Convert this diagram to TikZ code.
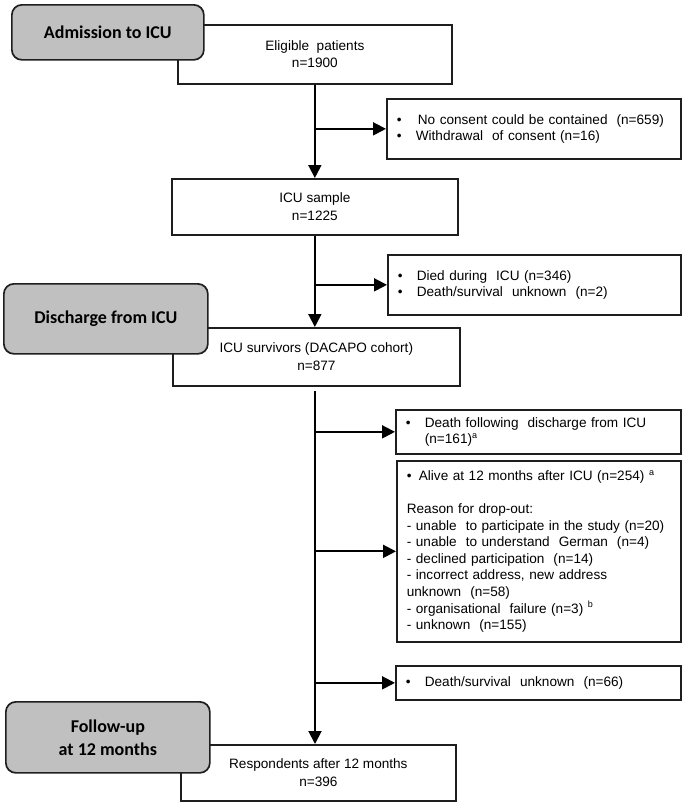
\documentclass[tikz,border=0pt]{standalone}
\usepackage{fontspec}
\setmainfont{Liberation Sans}
\newfontfamily\calib{Carlito}
\usetikzlibrary{arrows.meta}
\definecolor{phasegray}{RGB}{192,192,192}
\definecolor{edge}{RGB}{30,30,30}
\begin{document}
\begin{tikzpicture}[x=1pt,y=-1pt,
  box/.style={draw=edge, line width=1.7pt, fill=white, inner sep=0pt, anchor=north west,
    align=center, font=\fontsize{13.6}{17.5}\selectfont},
  exbox/.style={draw=edge, line width=1.7pt, fill=white, inner xsep=10pt, inner ysep=0pt,
    anchor=north west, align=left, font=\fontsize{13.6}{16.6}\selectfont},
  phase/.style={draw=edge, line width=1.7pt, fill=phasegray, rounded corners=10pt, inner sep=0pt,
    anchor=north west, align=center, font=\calib\bfseries\fontsize{18}{23}\selectfont},
  arr/.style={draw=black, line width=1.9pt, -{Triangle[length=13pt,width=13pt]}},
]
\useasboundingbox (0,0) rectangle (685,803);
% white boxes
\node[box, minimum width=274pt, minimum height=59pt] (elig) at (177,24) {Eligible\ \ patients\\n=1900};
\node[box, minimum width=286pt, minimum height=56pt] (sample) at (171,178) {ICU sample\\n=1225};
\node[box, minimum width=287pt, minimum height=58pt] (surv) at (172,327) {ICU survivors (DACAPO cohort)\\n=877};
\node[box, minimum width=275pt, minimum height=56pt] (resp) at (180,744) {Respondents\ after 12 months\\n=396};
% exclusion boxes
\node[exbox, text width=274pt, minimum height=60pt] (ex1) at (386,98)
  {\makebox[21pt][l]{\textbullet}No consent could\ be contained\ \ (n=659)\\
   \makebox[19pt][l]{\textbullet}Withdrawal\ \ of consent (n=16)};
\node[exbox, text width=273pt, minimum height=60pt] (ex2) at (387,254)
  {\makebox[19pt][l]{\textbullet}Died during\ \ ICU (n=346)\\
   \makebox[19pt][l]{\textbullet}Death/survival\ \ unknown\ \ (n=2)};
\node[exbox, text width=265pt, minimum height=44pt] (ex3) at (395,409)
  {\makebox[19pt][l]{\textbullet}Death following\ \ discharge from ICU\\
   \hspace*{19pt}(n=161)\textsuperscript{\fontsize{9}{9}\selectfont a}};
\node[exbox, text width=264pt, minimum height=181pt] (ex4) at (396,460)
  {\makebox[12pt][l]{\textbullet}Alive at 12 months after ICU (n=254) \textsuperscript{\fontsize{9}{9}\selectfont a}\\[16.6pt]
   Reason for drop-out:\\
   - unable\ \ to participate in the study (n=20)\\
   - unable\ \ to understand\ \ German\ \ (n=4)\\
   - declined participation\ \ (n=14)\\
   - incorrect address, new address\\
   unknown\ \ (n=58)\\
   - organisational\ \ failure (n=3) \textsuperscript{\fontsize{9}{9}\selectfont b}\\
   - unknown\ \ (n=155)};
\node[exbox, text width=265pt, minimum height=34pt] (ex5) at (395,665)
  {\makebox[19pt][l]{\textbullet}Death/survival\ \ unknown\ \ (n=66)};
% phase boxes
\node[phase, minimum width=192pt, minimum height=55pt] (adm) at (11,4) {Admission to ICU};
\node[phase, minimum width=204pt, minimum height=70pt] (dis) at (3,283) {Discharge from ICU};
\node[phase, minimum width=204pt, minimum height=71pt] (fol) at (5,701) {Follow-up\\at 12 months};
% connectors
\draw[arr] (elig.south) -- (elig.south |- sample.north);
\draw[arr] (elig.south |- ex1.west) -- (ex1.west);
\draw[arr] (sample.south) -- (sample.south |- surv.north);
\draw[arr] (sample.south |- ex2.west) -- (ex2.west);
\coordinate (c3) at (315,391);
\draw[arr] (c3) -- (c3 |- resp.north);
\draw[arr] (c3 |- ex3.west) -- (ex3.west);
\draw[arr] (c3 |- ex4.west) -- (ex4.west);
\draw[arr] (c3 |- ex5.west) -- (ex5.west);
\end{tikzpicture}
\end{document}
